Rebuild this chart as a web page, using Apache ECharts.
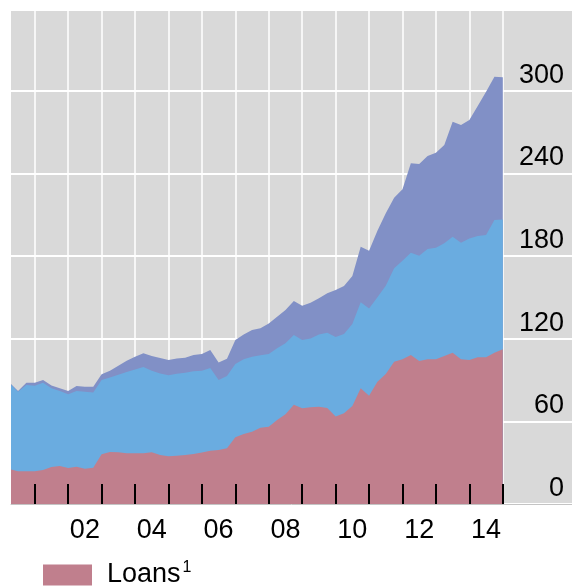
<!DOCTYPE html>
<html>
<head>
<meta charset="utf-8">
<script src="https://cdn.jsdelivr.net/npm/echarts@6/dist/echarts.min.js"></script>
<style>
  html, body { margin: 0; padding: 0; background: #ffffff; }
  #chart { width: 572px; height: 587px; }
</style>
</head>
<body>
<div id="chart"></div>
<script>
// quarter-end positions, 2000 Q1 .. 2014 Q4
const quarters = [
  2000.25, 2000.5, 2000.75, 2001.0, 2001.25, 2001.5, 2001.75, 2002.0,
  2002.25, 2002.5, 2002.75, 2003.0, 2003.25, 2003.5, 2003.75, 2004.0,
  2004.25, 2004.5, 2004.75, 2005.0, 2005.25, 2005.5, 2005.75, 2006.0,
  2006.25, 2006.5, 2006.75, 2007.0, 2007.25, 2007.5, 2007.75, 2008.0,
  2008.25, 2008.5, 2008.75, 2009.0, 2009.25, 2009.5, 2009.75, 2010.0,
  2010.25, 2010.5, 2010.75, 2011.0, 2011.25, 2011.5, 2011.75, 2012.0,
  2012.25, 2012.5, 2012.75, 2013.0, 2013.25, 2013.5, 2013.75, 2014.0,
  2014.25, 2014.5, 2014.75, 2015.0
];

const loans = [
  25.2, 23.7, 23.7, 23.7, 24.7, 26.9, 27.6, 26.1,
  27.1, 25.6, 26.4, 36.1, 37.7, 37.5, 36.8, 36.8,
  36.8, 37.5, 35.6, 34.7, 35.1, 35.6, 36.3, 37.3,
  38.7, 39.2, 40.4, 48.4, 50.8, 52.5, 55.4, 56.1,
  61.0, 65.1, 72.0, 69.5, 70.2, 70.6, 69.6, 63.6,
  65.8, 71.1, 84.0, 78.6, 88.8, 94.3, 103.3, 105.0,
  108.1, 103.8, 105.0, 105.0, 107.4, 109.8, 105.0, 104.5,
  106.5, 106.5, 109.8, 112.3
];

const middle = [
  62.4, 57.8, 62.7, 62.2, 63.4, 57.1, 54.4, 53.5,
  54.9, 55.9, 54.6, 53.9, 54.2, 56.4, 59.0, 60.9,
  62.6, 59.3, 59.2, 58.8, 59.5, 59.7, 60.0, 59.5,
  60.0, 50.8, 52.5, 53.2, 54.2, 54.4, 52.5, 52.8,
  52.0, 51.5, 50.7, 49.5, 50.0, 52.5, 54.7, 57.6,
  57.6, 59.5, 62.4, 63.4, 61.2, 64.2, 67.8, 71.6,
  74.3, 76.4, 80.1, 81.0, 81.8, 84.2, 84.7, 88.3,
  88.0, 88.7, 96.3, 94.3
];

const top3 = [
  0.4, 0.5, 1.6, 2.1, 1.9, 2.1, 2.0, 2.4,
  3.6, 3.7, 4.2, 4.1, 4.9, 6.5, 8.2, 9.2,
  10.0, 10.6, 11.2, 11.0, 11.1, 10.9, 11.8, 12.1,
  13.1, 12.8, 12.6, 17.4, 18.1, 19.4, 19.6, 22.2,
  23.0, 24.2, 24.6, 24.9, 25.9, 26.2, 28.6, 34.1,
  34.8, 34.9, 40.4, 41.9, 48.4, 52.5, 51.2, 51.8,
  64.9, 66.6, 67.5, 69.0, 71.4, 83.5, 85.4, 85.9,
  94.4, 104.1, 104.0, 103.1
];

const yearTicks = [2001, 2002, 2003, 2004, 2005, 2006, 2007, 2008,
  2009, 2010, 2011, 2012, 2013, 2014, 2015];
const yearLabels = [2002.5, 2004.5, 2006.5, 2008.5, 2010.5, 2012.5, 2014.5];

const FONT = "Liberation Sans, Arial, sans-serif";
const X_MIN = 2000.29, X_MAX = 2017.07;

// running totals of the layers, so each area can fill from zero
function cumulate(layers) {
  return quarters.map(function (q, i) {
    let sum = 0;
    layers.forEach(function (l) { sum += l[i]; });
    return [q, Math.round(sum * 10) / 10];
  });
}

function area(name, data, color, z) {
  return {
    name: name,
    type: "line",
    symbol: "none",
    xAxisIndex: 0,
    z: z,
    lineStyle: { width: 0 },
    itemStyle: { color: color },
    areaStyle: { color: color, opacity: 1 },
    data: data,
  };
}

const chart = echarts.init(document.getElementById("chart"));
chart.setOption({
  animation: false,
  grid: {
    left: 11, right: 0, top: 10, bottom: 83,
    show: true, backgroundColor: "#d9d9d9", borderWidth: 0,
  },
  legend: {
    data: ["Loans"],
    left: 38, top: 555,
    icon: "rect",
    itemWidth: 49, itemHeight: 21,
    formatter: function (n) { return "{a|" + n + "}{s|1}"; },
    textStyle: {
      padding: [0, 0, 0, 10],
      rich: {
        a: { fontFamily: FONT, fontSize: 27, color: "#000", lineHeight: 30 },
        s: { fontFamily: FONT, fontSize: 16, color: "#000", verticalAlign: "top", lineHeight: 4, padding: [0, 0, 0, 2] },
      },
    },
  },
  xAxis: [
    {
      type: "value", min: X_MIN, max: X_MAX, position: "bottom", z: 5,
      axisLine: { show: true, lineStyle: { color: "#c4c4c4", width: 1 } },
      axisTick: {
        show: true, inside: true, length: 20, customValues: yearTicks,
        lineStyle: { color: "#000", width: 2 },
      },
      axisLabel: {
        customValues: yearLabels,
        fontFamily: FONT, fontSize: 27, color: "#000", margin: 13,
        formatter: function (v) { return String(Math.floor(v) % 100).padStart(2, "0"); },
      },
      splitLine: { show: false },
    },
    {
      type: "value", min: X_MIN, max: X_MAX, position: "top", z: 0,
      axisLine: { show: false },
      axisTick: { show: false, customValues: yearTicks },
      axisLabel: { show: false },
      splitLine: { show: true, lineStyle: { color: "#ffffff", width: 1.5 } },
    },
  ],
  yAxis: {
    type: "value", min: 0, max: 358.6, interval: 60, position: "right",
    axisLine: { show: false },
    axisTick: { show: false },
    axisLabel: {
      inside: true, margin: 8,
      fontFamily: FONT, fontSize: 27, color: "#000",
      verticalAlign: "bottom", padding: [0, 0, 2, 0],
      formatter: function (v) { return v % 60 === 0 ? String(v) : ""; },
    },
    splitLine: { show: true, lineStyle: { color: "#ffffff", width: 2 } },
  },
  series: [
    area("Other", cumulate([loans, middle, top3]), "#8190c6", 2),
    area("Debt securities", cumulate([loans, middle]), "#6aace0", 3),
    area("Loans", cumulate([loans]), "#c07f8d", 4),
  ],
});
</script>
</body>
</html>
